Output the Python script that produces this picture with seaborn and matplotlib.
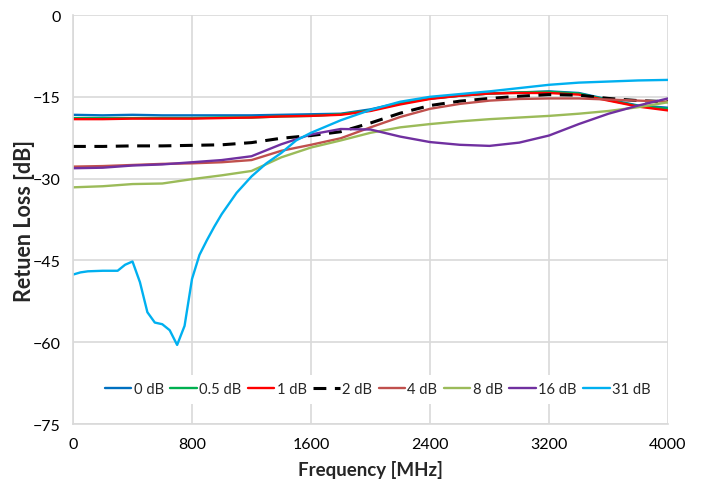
import numpy as np
import pandas as pd
import matplotlib
matplotlib.use('Agg')
import matplotlib.pyplot as plt
import seaborn as sns

sns.set_style("white")
plt.rcParams['font.family'] = ['Lato', 'DejaVu Sans']

# frequency grid (MHz) shared by the smooth curves
freq = [0, 200, 400, 600, 800, 1000, 1200, 1400, 1600, 1800, 2000,
        2200, 2400, 2600, 2800, 3000, 3200, 3400, 3600, 3800, 4000]

rl_0db  = [-18.3, -18.4, -18.3, -18.4, -18.4, -18.4, -18.4, -18.3, -18.2, -18.1, -17.3,
           -16.1, -15.3, -14.8, -14.4, -14.2, -14.0, -14.3, -15.5, -16.6, -17.0]
rl_05db = [-18.9, -18.9, -18.9, -18.9, -18.9, -18.8, -18.8, -18.6, -18.5, -18.2, -17.5,
           -16.2, -15.3, -14.8, -14.4, -14.2, -14.1, -14.4, -15.6, -16.7, -17.2]
rl_1db  = [-19.1, -19.1, -19.0, -19.0, -19.0, -18.9, -18.8, -18.6, -18.5, -18.3, -17.6,
           -16.4, -15.4, -14.8, -14.4, -14.3, -14.3, -14.6, -15.7, -16.8, -17.5]
rl_2db  = [-24.1, -24.1, -24.0, -24.0, -23.9, -23.8, -23.4, -22.6, -22.1, -21.4, -19.8,
           -18.0, -16.6, -15.8, -15.3, -14.9, -14.6, -14.7, -15.3, -15.7, -15.9]
rl_4db  = [-27.8, -27.7, -27.5, -27.3, -27.2, -27.0, -26.6, -24.9, -23.8, -22.6, -20.6,
           -18.7, -17.2, -16.3, -15.7, -15.4, -15.3, -15.3, -15.5, -15.7, -15.9]
rl_8db  = [-31.6, -31.4, -31.0, -30.9, -30.1, -29.4, -28.6, -26.1, -24.3, -23.0, -21.6,
           -20.6, -20.0, -19.5, -19.1, -18.8, -18.5, -18.1, -17.6, -16.9, -16.0]
rl_16db = [-28.1, -28.0, -27.6, -27.4, -27.0, -26.6, -25.9, -23.7, -21.9, -20.9, -21.0,
           -22.3, -23.3, -23.8, -24.0, -23.4, -22.1, -20.0, -18.1, -16.6, -15.3]

# 31 dB has a sharp notch at low frequency, so it gets a finer grid
freq_31 = [0, 50, 100, 200, 300, 350, 400, 450, 500, 550, 600, 650, 700, 750,
           800, 850, 900, 950, 1000, 1100, 1200, 1300, 1400, 1500, 1600, 1800,
           2000, 2200, 2400, 2600, 2800, 3000, 3200, 3400, 3600, 3800, 4000]
rl_31db = [-47.6, -47.2, -47.0, -46.9, -46.9, -45.8, -45.2, -49.0, -54.5, -56.4,
           -56.7, -57.8, -60.5, -57.0, -48.4, -44.0, -41.3, -38.8, -36.5, -32.6,
           -29.6, -27.2, -25.3, -23.0, -21.6, -19.3, -17.4, -15.9, -15.0, -14.5,
           -14.0, -13.4, -12.8, -12.4, -12.2, -12.0, -11.9]

labels = ['0 dB', '0.5 dB', '1 dB', '2 dB', '4 dB', '8 dB', '16 dB', '31 dB']
colors = ['#0070C0', '#00B050', '#FF0000', '#000000', '#C0504D', '#9BBB59', '#7030A0', '#00B0F0']
series = [(freq, rl_0db), (freq, rl_05db), (freq, rl_1db), (freq, rl_2db),
          (freq, rl_4db), (freq, rl_8db), (freq, rl_16db), (freq_31, rl_31db)]

fig, ax = plt.subplots(figsize=(7.02, 4.85), dpi=100)
fig.subplots_adjust(left=0.104, right=0.9516, top=0.967, bottom=0.1237)

for (x, y), lab, col in zip(series, labels, colors):
    df = pd.DataFrame({'Frequency': x, 'RL': y})
    if lab == '2 dB':
        sns.lineplot(data=df, x='Frequency', y='RL', ax=ax, color=col,
                     linewidth=2.2, linestyle=(0, (4.2, 2.8)), label=lab)
    else:
        sns.lineplot(data=df, x='Frequency', y='RL', ax=ax, color=col,
                     linewidth=1.7, label=lab)

ax.set_xlim(0, 4000)
ax.set_ylim(-75, 0)
ax.set_xticks(np.arange(0, 4001, 800))
ax.set_yticks(np.arange(-75, 1, 15))
ax.grid(True, color='#D9D9D9', linewidth=1.2)
ax.set_axisbelow(True)
for s in ['top', 'right']:
    ax.spines[s].set_visible(False)
for s in ['left', 'bottom']:
    ax.spines[s].set_color('#D9D9D9')
    ax.spines[s].set_linewidth(1.2)
ax.tick_params(axis='both', which='both', direction='out', length=5,
               color='#D9D9D9', labelsize=11.5, labelcolor='black', pad=4)

ax.set_xlabel('Frequency [MHz]', fontsize=13.5, fontweight='bold')
ax.set_ylabel('Retuen Loss [dB]', fontsize=15.5, fontweight='bold')
ax.xaxis.set_label_coords(0.5, -0.088)
ax.yaxis.set_label_coords(-0.064, 0.5)

leg = ax.legend(loc='center', bbox_to_anchor=(0.512, 0.085), ncol=8, fontsize=10.6,
                frameon=True, fancybox=False, framealpha=1, edgecolor='none',
                handlelength=1.8, handletextpad=0.15, columnspacing=0.45,
                borderpad=0.5)
leg.get_frame().set_facecolor('white')

fig.savefig('out.png', dpi=100)
